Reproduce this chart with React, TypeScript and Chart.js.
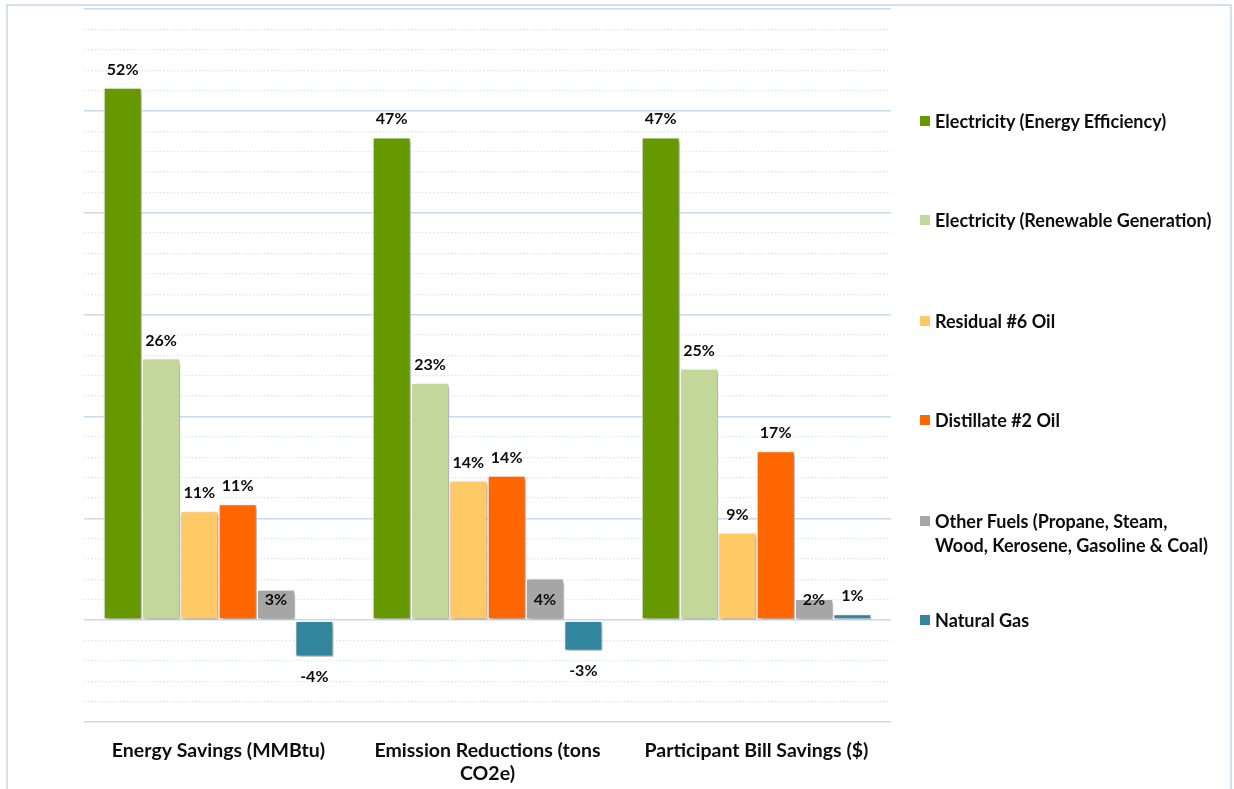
import React, { useEffect, useRef } from "react";
import { Chart, registerables } from "chart.js";

Chart.register(...registerables);

// ---- Data ----
const categories: string[][] = [
  ["Energy Savings (MMBtu)"],
  ["Emission Reductions (tons", "CO2e)"],
  ["Participant Bill Savings ($)"],
];

const seriesNames: string[] = [
  "Electricity (Energy Efficiency)",
  "Electricity (Renewable Generation)",
  "Residual #6 Oil",
  "Distillate #2 Oil",
  "Other Fuels (Propane, Steam, Wood, Kerosene, Gasoline & Coal)",
  "Natural Gas",
];

const legendLines: string[][] = [
  ["Electricity (Energy Efficiency)"],
  ["Electricity (Renewable Generation)"],
  ["Residual #6 Oil"],
  ["Distillate #2 Oil"],
  ["Other Fuels (Propane, Steam,", "Wood, Kerosene, Gasoline & Coal)"],
  ["Natural Gas"],
];

const electricityEfficiency = [52.3, 47.4, 47.4];
const electricityRenewable = [25.7, 23.3, 24.7];
const residualOil = [10.7, 13.7, 8.6];
const distillateOil = [11.4, 14.2, 16.6];
const otherFuels = [3.0, 4.1, 2.1];
const naturalGas = [-3.6, -3.0, 0.6];

const seriesValues = [
  electricityEfficiency,
  electricityRenewable,
  residualOil,
  distillateOil,
  otherFuels,
  naturalGas,
];

const seriesColors = ["#669900", "#c4d79b", "#ffc966", "#ff6600", "#a6a6a6", "#31859c"];

const yMin = -10;
const yMax = 60;
const majorStep = 10;
const minorStep = 2;

const FONT = "Lato, 'Open Sans', sans-serif";
const TEXT_COLOR = "#0d0d0d";

const barDecor = {
  id: "barDecor",
  beforeDatasetsDraw(chart: any) {
    const c = chart.ctx;
    c.save();
    c.shadowColor = "rgba(0,0,0,0.38)";
    c.shadowBlur = 4;
    c.shadowOffsetX = 2;
    c.shadowOffsetY = 2;
  },
  afterDatasetsDraw(chart: any) {
    const c = chart.ctx;
    c.restore();
    c.save();
    c.font = `bold 16px ${FONT}`;
    c.fillStyle = TEXT_COLOR;
    c.textAlign = "center";
    c.textBaseline = "middle";
    const ys = chart.scales.y;
    chart.data.datasets.forEach((ds: any, di: number) => {
      const meta = chart.getDatasetMeta(di);
      meta.data.forEach((bar: any, i: number) => {
        const v = ds.data[i] as number;
        const txt = Math.round(v) + "%";
        let y: number;
        if (di === 4) y = ys.getPixelForValue(2);
        else if (v >= 0) y = bar.y - 18;
        else y = bar.y + 20;
        c.fillText(txt, bar.x, y);
      });
    });
    c.restore();
  },
};

export default function App() {
  const canvasRef = useRef<HTMLCanvasElement | null>(null);

  useEffect(() => {
    if (!canvasRef.current) return;
    const chart = new Chart(canvasRef.current, {
      type: "bar",
      data: {
        labels: categories as any,
        datasets: seriesNames.map((name, i) => ({
          label: name,
          data: seriesValues[i],
          backgroundColor: seriesColors[i],
          borderColor: "#ffffff",
          borderWidth: 1.2,
          borderSkipped: false,
          categoryPercentage: 0.855,
          barPercentage: 1.0,
        })),
      },
      options: {
        animation: false,
        responsive: true,
        maintainAspectRatio: false,
        layout: { padding: { left: 0, top: 9, right: 343, bottom: 0 } },
        plugins: {
          legend: { display: false },
          tooltip: { enabled: false },
        },
        scales: {
          x: {
            grid: { display: false },
            border: { display: false },
            ticks: {
              font: { family: FONT, size: 19.5, weight: "bold", lineHeight: 1.15 },
              color: TEXT_COLOR,
              padding: 10,
              maxRotation: 0,
              autoSkip: false,
            },
            afterFit: (s: any) => {
              s.height = 67;
            },
          },
          y2: {
            position: "left",
            min: yMin,
            max: yMax,
            ticks: { display: false, stepSize: minorStep },
            grid: {
              drawTicks: false,
              lineWidth: 1.2,
              color: (ctx: any) =>
                ctx.tick && Math.abs(ctx.tick.value % majorStep) < 1e-6 ? "rgba(0,0,0,0)" : "#d3e0f1",
            },
            border: { display: false, dash: [1.2, 2.4] },
            afterFit: (s: any) => {
              s.width = 0;
            },
          },
          y: {
            position: "left",
            min: yMin,
            max: yMax,
            ticks: { display: false, stepSize: majorStep },
            grid: { drawTicks: false, lineWidth: 1.5, color: "#c9daef" },
            border: { display: false },
            afterFit: (s: any) => {
              s.width = 84;
            },
          },
        },
      } as any,
      plugins: [barDecor],
    });
    return () => chart.destroy();
  }, []);

  const legendY = [121, 220, 321, 420, 521, 620];

  return (
    <div
      style={{
        position: "absolute",
        left: 0,
        top: 0,
        width: 1234,
        height: 789,
        background: "#ffffff",
        overflow: "hidden",
      }}
    >
      <div
        style={{
          position: "absolute",
          left: 6,
          top: 4,
          width: 1226,
          height: 800,
          border: "2px solid #d3e0f0",
          boxSizing: "border-box",
        }}
      />
      <div style={{ position: "absolute", left: 0, top: 0, width: 1234, height: 789 }}>
        <canvas ref={canvasRef} />
      </div>
      {legendLines.map((lines, i) => (
        <div
          key={i}
          style={{
            position: "absolute",
            left: 920,
            top: legendY[i] - 12,
            fontFamily: FONT,
            fontWeight: "bold",
            fontSize: 18,
            lineHeight: "24px",
            color: TEXT_COLOR,
            whiteSpace: "nowrap",
          }}
        >
          <span
            style={{
              position: "absolute",
              left: 0,
              top: 7,
              width: 10,
              height: 10,
              background: seriesColors[i],
            }}
          />
          <div style={{ marginLeft: 15 }}>
            {lines.map((l, j) => (
              <div key={j}>{l}</div>
            ))}
          </div>
        </div>
      ))}
    </div>
  );
}
